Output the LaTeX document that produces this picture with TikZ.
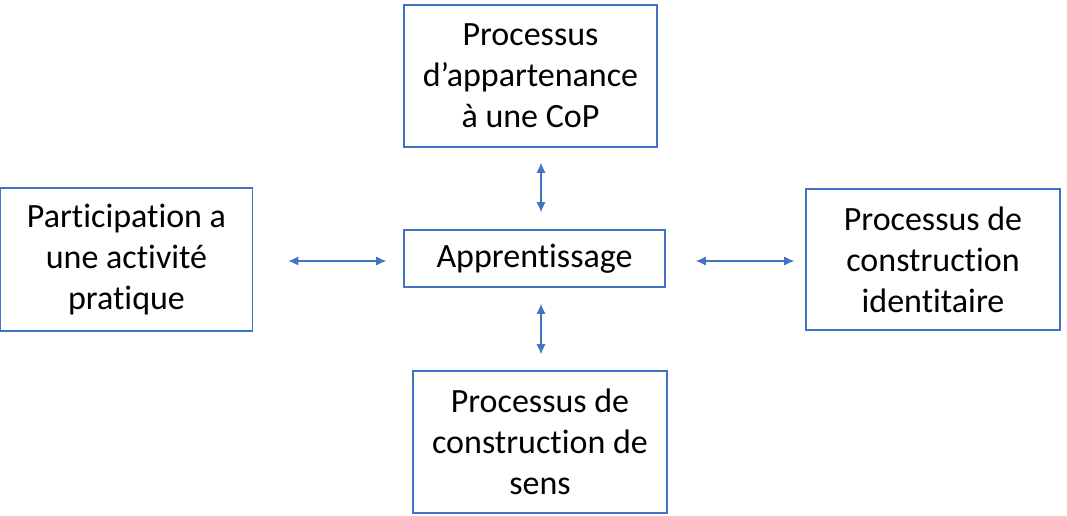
\documentclass[tikz,border=0pt]{standalone}
\usepackage{fontspec}
\setmainfont{Carlito}[Ligatures=NoCommon]
\usetikzlibrary{arrows.meta}
\definecolor{boxblue}{HTML}{4472C4}

\begin{document}
\begin{tikzpicture}[x=1pt, y=-1pt,
    bloc/.style={draw=boxblue, line width=1.6pt, align=center, inner sep=0pt,
      font=\fontsize{34}{41}\selectfont},
    lien/.style={draw=boxblue, line width=1.1pt,
      {Latex[length=10pt,width=9pt]}-{Latex[length=10pt,width=9pt]}}]
    \useasboundingbox (0,0) rectangle (1067,516);

    % --- The five boxes ---
    \node[bloc, minimum width=253pt, minimum height=142pt] (cop) at (530.5,76)
        {Processus\\d’appartenance\\à une CoP};
    \node[bloc, minimum width=252pt, minimum height=143pt] (part) at (126.5,259.5)
        {Participation a\\une activité\\pratique};
    \node[bloc, minimum width=261pt, minimum height=57pt] (app) at (534.5,258.5)
        {Apprentissage};
    \node[bloc, minimum width=254pt, minimum height=141pt] (ident) at (933,259.5)
        {Processus de\\construction\\identitaire};
    \node[bloc, minimum width=254pt, minimum height=142pt] (sens) at (540,442)
        {Processus de\\construction de\\sens};

    % --- Double arrows around the centre ---
    \coordinate (axe) at (541,0);
    \coordinate (mid) at (0,261);
    \draw[lien, shorten <=15pt, shorten >=17pt] (cop.south -| axe) -- (app.north -| axe);
    \draw[lien, shorten <=16pt, shorten >=16pt] (app.south -| axe) -- (sens.north -| axe);
    \draw[lien, shorten <=35pt, shorten >=17pt] (part.east |- mid) -- (app.west |- mid);
    \draw[lien, shorten <=30pt, shorten >=11pt] (app.east |- mid) -- (ident.west |- mid);

\end{tikzpicture}
\end{document}
